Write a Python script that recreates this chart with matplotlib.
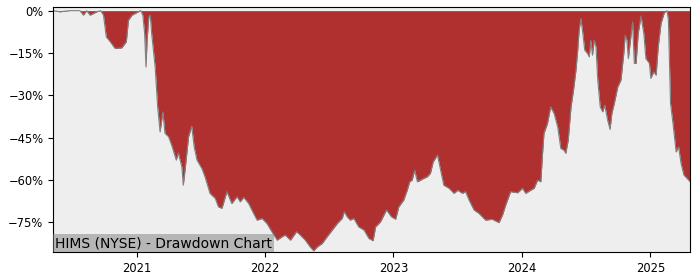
import pandas as pd
import matplotlib
matplotlib.use("Agg")
import matplotlib.pyplot as plt
import matplotlib.dates as mdates
from matplotlib.ticker import MultipleLocator, PercentFormatter

# ── Data (drawdown in %) ─────────────────────────────────────────────────────
DATES = [
    "2020-05-08", "2020-05-27", "2020-06-25", "2020-07-23", "2020-08-02",
    "2020-08-11", "2020-08-21", "2020-09-09", "2020-09-20", "2020-09-28",
    "2020-10-06", "2020-10-17", "2020-10-31", "2020-11-19", "2020-12-02",
    "2020-12-08", "2020-12-18", "2020-12-30", "2021-01-05", "2021-01-12",
    "2021-01-18", "2021-01-23", "2021-01-27", "2021-01-30", "2021-02-04",
    "2021-02-08", "2021-02-12", "2021-02-22", "2021-03-01", "2021-03-08",
    "2021-03-16", "2021-03-22", "2021-04-01", "2021-04-10", "2021-04-23",
    "2021-04-29", "2021-05-09", "2021-05-13", "2021-05-18", "2021-05-28",
    "2021-06-06", "2021-06-13", "2021-06-21", "2021-07-05", "2021-07-14",
    "2021-07-28", "2021-08-12", "2021-08-21", "2021-08-31", "2021-09-14",
    "2021-09-28", "2021-10-13", "2021-10-22", "2021-11-01", "2021-11-15",
    "2021-11-24", "2021-12-09", "2021-12-23", "2022-01-06", "2022-01-20",
    "2022-02-04", "2022-02-18", "2022-02-27", "2022-03-14", "2022-03-31",
    "2022-04-11", "2022-04-25", "2022-05-09", "2022-05-19", "2022-05-29",
    "2022-06-12", "2022-06-26", "2022-07-11", "2022-07-25", "2022-08-08",
    "2022-08-14", "2022-08-22", "2022-08-31", "2022-09-10", "2022-09-24",
    "2022-10-09", "2022-10-23", "2022-11-01", "2022-11-04", "2022-11-11",
    "2022-11-25", "2022-12-12", "2022-12-26", "2023-01-07", "2023-01-16",
    "2023-01-30", "2023-02-09", "2023-02-16", "2023-02-23", "2023-03-02",
    "2023-03-10", "2023-03-19", "2023-03-28", "2023-04-07", "2023-04-16",
    "2023-04-24", "2023-05-06", "2023-05-15", "2023-05-24", "2023-06-08",
    "2023-06-22", "2023-07-03", "2023-07-16", "2023-07-25", "2023-08-04",
    "2023-08-18", "2023-09-01", "2023-09-20", "2023-10-09", "2023-10-28",
    "2023-11-07", "2023-11-16", "2023-11-30", "2023-12-20", "2024-01-03",
    "2024-01-12", "2024-01-26", "2024-02-05", "2024-02-15", "2024-02-24",
    "2024-02-29", "2024-03-04", "2024-03-14", "2024-03-23", "2024-04-02",
    "2024-04-12", "2024-04-21", "2024-04-30", "2024-05-05", "2024-05-12",
    "2024-05-20", "2024-05-27", "2024-06-03", "2024-06-08", "2024-06-12",
    "2024-06-17", "2024-06-22", "2024-06-28", "2024-07-06", "2024-07-11",
    "2024-07-15", "2024-07-20", "2024-07-25", "2024-07-30", "2024-08-04",
    "2024-08-11", "2024-08-18", "2024-08-24", "2024-09-01", "2024-09-08",
    "2024-09-13", "2024-09-20", "2024-09-30", "2024-10-09", "2024-10-17",
    "2024-10-21", "2024-10-26", "2024-10-30", "2024-11-04", "2024-11-11",
    "2024-11-16", "2024-11-21", "2024-11-27", "2024-12-05", "2024-12-13",
    "2024-12-19", "2024-12-29", "2025-01-02", "2025-01-10", "2025-01-17",
    "2025-01-23", "2025-01-31", "2025-02-09", "2025-02-17", "2025-02-21",
    "2025-02-27", "2025-03-06", "2025-03-15", "2025-03-22", "2025-03-29",
    "2025-04-06", "2025-04-15", "2025-04-24",
]
DRAWDOWN = [
    0.0, -0.4, 0.0, 0.0, -1.6,
    0.0, -1.6, -0.4, 0.0, -1.6,
    -9.3, -11.0, -13.4, -13.2, -11.0,
    -3.4, -1.6, -0.8, -0.4, 0.0,
    -1.6, -8.0, -20.0, -10.5, -2.2,
    -1.6, -8.0, -20.0, -34.0, -43.0,
    -35.9, -43.5, -44.7, -47.7, -53.0,
    -50.5, -55.4, -61.9, -56.6, -44.7,
    -41.0, -48.3, -53.0, -56.0, -59.0,
    -64.8, -66.6, -69.6, -70.1, -64.2,
    -68.4, -66.0, -67.8, -66.2, -68.4,
    -70.7, -74.3, -73.7, -75.5, -78.4,
    -81.4, -80.2, -79.6, -81.4, -78.4,
    -79.6, -81.4, -83.8, -85.2, -83.8,
    -82.6, -80.2, -77.8, -75.5, -73.7,
    -71.3, -73.1, -74.3, -73.7, -76.7,
    -77.8, -80.8, -81.4, -81.6, -76.7,
    -74.9, -70.7, -73.1, -74.0, -69.6,
    -67.2, -63.7, -60.7, -60.1, -56.6,
    -60.7, -60.1, -59.5, -58.9, -57.7,
    -53.6, -51.2, -56.6, -61.9, -63.0,
    -64.8, -63.7, -64.8, -64.2, -67.2,
    -70.7, -71.9, -74.3, -74.0, -75.2,
    -72.5, -69.0, -64.2, -64.6, -63.0,
    -64.8, -63.7, -63.0, -60.1, -60.7,
    -50.6, -43.5, -40.0, -34.1, -36.5,
    -41.2, -48.9, -49.5, -50.6, -45.9,
    -34.1, -28.2, -21.1, -14.0, -6.9,
    -2.8, -7.5, -14.0, -15.2, -16.4,
    -10.5, -15.8, -10.5, -12.8, -24.6,
    -34.1, -35.9, -33.5, -38.8, -42.1,
    -36.5, -32.9, -27.0, -24.6, -15.2,
    -8.7, -10.5, -17.0, -11.6, -4.0,
    -18.7, -18.7, -8.1, -1.9, -8.1,
    -17.0, -18.7, -24.0, -21.7, -22.9,
    -12.8, -4.5, -0.8, 0.0, -3.4,
    -32.9, -40.0, -50.1, -48.3, -54.2,
    -58.3, -59.5, -60.7,
]
TICKER_LABEL = "HIMS (NYSE) - Drawdown Chart"

C_FILL = "#b03030"
C_BG   = "#eeeeee"

dates = pd.to_datetime(DATES)
dd = pd.Series(DRAWDOWN, index=dates)

fig = plt.figure(figsize=(7.0, 2.8), dpi=100)
ax = fig.add_axes([0.076, 0.10, 0.910, 0.875])
ax.set_facecolor(C_BG)

ax.fill_between(dd.index, dd.values, 0, color=C_FILL, lw=0)
ax.plot(dd.index, dd.values, color="gray", lw=0.8)

ax.set_xlim(dd.index[0], dd.index[-1])
ax.set_ylim(-85.6, 1.3)
ax.yaxis.set_major_locator(MultipleLocator(15))
ax.yaxis.set_major_formatter(PercentFormatter(decimals=0))
ax.xaxis.set_major_locator(mdates.YearLocator())
ax.xaxis.set_major_formatter(mdates.DateFormatter("%Y"))
ax.tick_params(labelsize=8.3)

# label box in the lower-left corner
ax.text(0.003, 0.008, TICKER_LABEL, transform=ax.transAxes,
        ha="left", va="bottom", fontsize=10,
        bbox=dict(facecolor="gray", alpha=0.5, edgecolor="none", pad=1.3))

fig.savefig("out.png", dpi=100)
